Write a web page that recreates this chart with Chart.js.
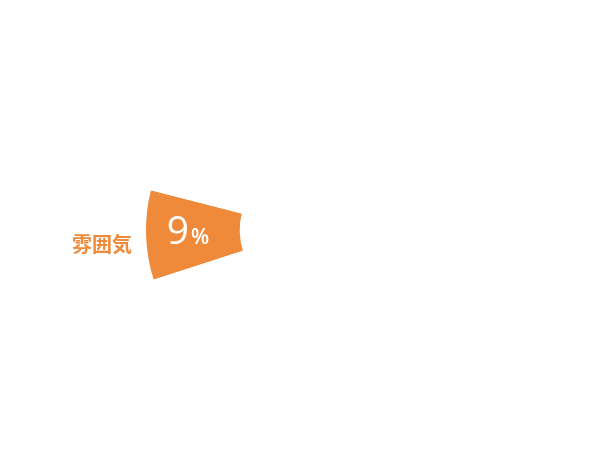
<!DOCTYPE html>
<html>
<head>
<meta charset="utf-8">
<script src="https://cdn.jsdelivr.net/npm/chart.js@4"></script>
<style>
  html, body { margin: 0; padding: 0; background: #fff; }
  #wrap { width: 616px; height: 460px; }
</style>
</head>
<body>
<div id="wrap"><canvas id="c" width="616" height="460"></canvas></div>
<script>
// ── Data ──────────────────────────────────────────────────────────────────────
const labels  = ["雰囲気", ""];
const values  = [9, 91];
const colours = ["#ef8a3b", "rgba(0,0,0,0)"];

const ORANGE = "#ef8a3b";

// ── Label plugin: name outside, percent inside the visible slice ─────────────
const sliceLabels = {
    id: "sliceLabels",
    afterDatasetsDraw(chart) {
        const ctx  = chart.ctx;
        const arc  = chart.getDatasetMeta(0).data[0];
        const mid  = (arc.startAngle + arc.endAngle) / 2;
        const rMid = (arc.innerRadius + arc.outerRadius) / 2;
        const px   = arc.x + Math.cos(mid) * rMid - 5;
        const py   = arc.y + Math.sin(mid) * rMid;

        ctx.save();
        // "9" big + "%" small, centred together
        const big   = "400 39px 'Open Sans', 'Noto Sans', sans-serif";
        const small = "600 21px 'Open Sans', 'Noto Sans', sans-serif";
        const num   = String(values[0]);
        ctx.font = big;   const wNum = ctx.measureText(num).width;
        ctx.font = small; const wPct = ctx.measureText("%").width;
        const gap   = 2;
        const left  = px - (wNum + gap + wPct) / 2;
        ctx.fillStyle    = "#fff";
        ctx.textBaseline = "alphabetic";
        ctx.textAlign    = "left";
        ctx.font = big;   ctx.fillText(num, left, py + 10);
        ctx.font = small; ctx.fillText("%", left + wNum + gap, py + 10);

        // category name, left of the outer edge
        ctx.font      = "bold 20px 'Noto Sans CJK JP', sans-serif";
        ctx.fillStyle = ORANGE;
        ctx.textAlign = "right";
        ctx.fillText(labels[0], arc.x - arc.outerRadius - 13, arc.y + 22);
        ctx.restore();
    },
};

// ── Chart ─────────────────────────────────────────────────────────────────────
new Chart(document.getElementById("c"), {
    type: "doughnut",
    data: {
        labels,
        datasets: [{
            data:            values,
            backgroundColor: colours,
            borderColor:     "#fff",
            borderWidth:     2,
            radius:          165,
            hoverOffset:     0,
        }],
    },
    options: {
        responsive: false,
        animation:  false,
        cutout:     "42%",
        rotation:   252,
        layout:     { padding: { left: 4 } },
        plugins: {
            legend:  { display: false },
            tooltip: { enabled: false },
        },
    },
    plugins: [sliceLabels],
});
</script>
</body>
</html>
